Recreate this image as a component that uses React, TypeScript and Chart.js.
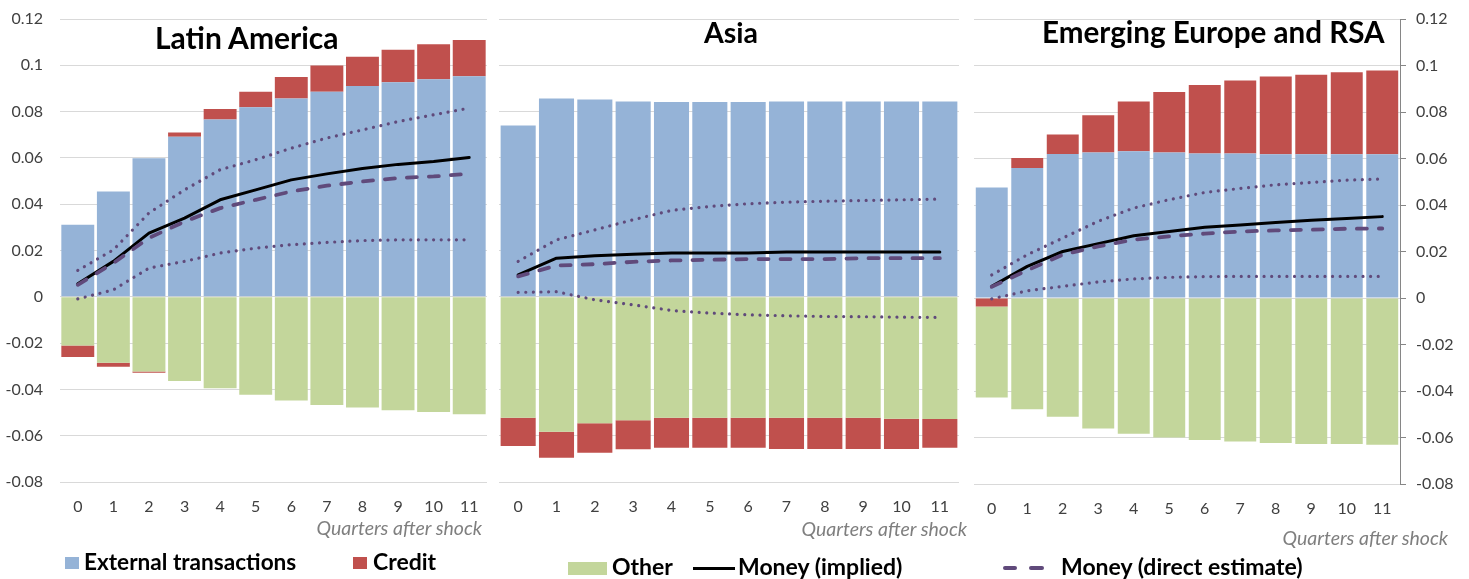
import React, { useEffect, useRef } from 'react';
import { Chart, registerables } from 'chart.js';

Chart.register(...registerables);

const quarters = ['0', '1', '2', '3', '4', '5', '6', '7', '8', '9', '10', '11'];
const yTickValues = [-0.08, -0.06, -0.04, -0.02, 0, 0.02, 0.04, 0.06, 0.08, 0.1, 0.12];

// Latin America
const laExternal = [0.0311, 0.0455, 0.0598, 0.0691, 0.0766, 0.0819, 0.0857, 0.0886, 0.0911, 0.0927, 0.094, 0.0953];
const laOther = [-0.021, -0.0285, -0.0323, -0.0364, -0.0395, -0.0423, -0.0448, -0.0467, -0.0478, -0.049, -0.0498, -0.0507];
const laCredit = [-0.005, -0.0017, -0.0005, 0.0019, 0.0045, 0.0067, 0.0092, 0.0113, 0.0126, 0.014, 0.0151, 0.0156];
const laMoneyImplied = [0.0056, 0.0153, 0.0275, 0.034, 0.0419, 0.0462, 0.0505, 0.0531, 0.0554, 0.0572, 0.0584, 0.0602];
const laMoneyDirect = [0.0052, 0.0146, 0.0254, 0.0325, 0.0383, 0.0419, 0.0455, 0.048, 0.0498, 0.0513, 0.052, 0.0531];
const laUpperBand = [0.0114, 0.0203, 0.0362, 0.0462, 0.0549, 0.0592, 0.0642, 0.0686, 0.0721, 0.0757, 0.0786, 0.0815];
const laLowerBand = [-0.0009, 0.003, 0.0124, 0.0153, 0.0189, 0.021, 0.0225, 0.0235, 0.0243, 0.0246, 0.0246, 0.0246];

// Asia
const asExternal = [0.074, 0.0857, 0.0852, 0.0844, 0.0841, 0.0841, 0.0841, 0.0844, 0.0844, 0.0844, 0.0844, 0.0844];
const asOther = [-0.0523, -0.0583, -0.0546, -0.0533, -0.0523, -0.0523, -0.0523, -0.0523, -0.0523, -0.0523, -0.0527, -0.0528];
const asCredit = [-0.0122, -0.0112, -0.0128, -0.0125, -0.0129, -0.0129, -0.0129, -0.0134, -0.0134, -0.0134, -0.013, -0.0124];
const asMoneyImplied = [0.0095, 0.0167, 0.0177, 0.0184, 0.0189, 0.0189, 0.0189, 0.0193, 0.0193, 0.0193, 0.0193, 0.0193];
const asMoneyDirect = [0.0088, 0.0135, 0.0141, 0.0151, 0.0157, 0.016, 0.0163, 0.0163, 0.0163, 0.0167, 0.0167, 0.0167];
const asUpperBand = [0.0153, 0.0246, 0.0289, 0.0333, 0.0373, 0.039, 0.0402, 0.0409, 0.0413, 0.0416, 0.0419, 0.0422];
const asLowerBand = [0.0019, 0.0022, -0.0013, -0.0035, -0.0059, -0.007, -0.0078, -0.0082, -0.0085, -0.0086, -0.0088, -0.0089];

// Emerging Europe and RSA
const eeExternal = [0.0475, 0.0559, 0.0619, 0.0626, 0.0631, 0.0626, 0.0622, 0.0622, 0.0618, 0.0618, 0.0618, 0.0618];
const eeCredit = [-0.0037, 0.0043, 0.0084, 0.016, 0.0214, 0.026, 0.0294, 0.0314, 0.0335, 0.0342, 0.0353, 0.036];
const eeOther = [-0.0391, -0.0479, -0.0511, -0.0561, -0.0584, -0.06, -0.0611, -0.0617, -0.0624, -0.0628, -0.0628, -0.0631];
const eeMoneyImplied = [0.005, 0.0136, 0.02, 0.0234, 0.0268, 0.0286, 0.0304, 0.0314, 0.0325, 0.0334, 0.0342, 0.035];
const eeMoneyDirect = [0.0048, 0.0119, 0.0186, 0.0222, 0.0251, 0.0265, 0.0277, 0.0286, 0.0291, 0.0294, 0.0298, 0.0299];
const eeUpperBand = [0.0099, 0.0186, 0.0258, 0.033, 0.0387, 0.0423, 0.0454, 0.0471, 0.0487, 0.0497, 0.0507, 0.0512];
const eeLowerBand = [-0.0004, 0.0031, 0.005, 0.0069, 0.0082, 0.0089, 0.0092, 0.0093, 0.0093, 0.0093, 0.0093, 0.0093];

const BLUE = '#95B3D7';
const RED = '#C0504D';
const GREEN = '#C3D69B';
const PURPLE = '#604A7B';
const FONT = 'Lato, "Open Sans", sans-serif';

type PanelOpts = {
  external: number[];
  other: number[];
  credit: number[];
  implied: number[];
  direct: number[];
  upper: number[];
  lower: number[];
  creditBeforeOther: boolean;
  barPct: number;
  yMode: 'left' | 'none' | 'right';
  yWidth: number;
  xHeight: number;
  padRight: number;
};

function buildConfig(o: PanelOpts): any {
  const bar = (label: string, data: number[], color: string) => ({
    type: 'bar',
    label,
    data,
    backgroundColor: color,
    borderWidth: 0,
    stack: 'bars',
    order: 2,
    barPercentage: o.barPct,
    categoryPercentage: 1,
  });
  const line = (label: string, data: number[], color: string, width: number, dash: number[], cap: string, stack: string) => ({
    type: 'line',
    label,
    data,
    borderColor: color,
    backgroundColor: color,
    borderWidth: width,
    borderDash: dash,
    borderCapStyle: cap,
    borderJoinStyle: 'round',
    pointRadius: 0,
    fill: false,
    tension: 0,
    stack,
    order: 0,
  });
  const bars = o.creditBeforeOther
    ? [bar('External transactions', o.external, BLUE), bar('Credit', o.credit, RED), bar('Other', o.other, GREEN)]
    : [bar('External transactions', o.external, BLUE), bar('Other', o.other, GREEN), bar('Credit', o.credit, RED)];
  const datasets = [
    ...bars,
    line('Upper band', o.upper, PURPLE, 3.2, [0.01, 7.6], 'round', 's1'),
    line('Lower band', o.lower, PURPLE, 3.2, [0.01, 7.6], 'round', 's2'),
    line('Money (direct estimate)', o.direct, PURPLE, 3.8, [10, 12], 'round', 's3'),
    line('Money (implied)', o.implied, '#000000', 3, [], 'round', 's4'),
  ];
  return {
    type: 'bar',
    data: { labels: quarters, datasets },
    options: {
      responsive: false,
      maintainAspectRatio: false,
      animation: false,
      layout: { padding: { top: 19, right: o.padRight, left: 0, bottom: 0 } },
      plugins: { legend: { display: false }, tooltip: { enabled: false }, title: { display: false } },
      scales: {
        x: {
          stacked: true,
          grid: { display: false, drawTicks: false },
          border: { display: false },
          ticks: { color: '#404040', font: { family: FONT, size: 16 }, padding: 15, maxRotation: 0, autoSkip: false },
          afterFit: (s: any) => {
            s.height = o.xHeight;
            s.paddingLeft = 0;
            s.paddingRight = 0;
          },
        },
        y: {
          stacked: true,
          position: o.yMode === 'right' ? 'right' : 'left',
          min: -0.08,
          max: 0.12,
          afterBuildTicks: (s: any) => {
            s.ticks = yTickValues.map((v) => ({ value: v }));
          },
          grid: {
            color: '#D9D9D9',
            lineWidth: 1,
            drawTicks: o.yMode === 'right',
            tickLength: 6,
            tickColor: '#868686',
          },
          border: { display: o.yMode === 'right', color: '#868686', width: 1 },
          ticks: {
            display: o.yMode !== 'none',
            color: '#404040',
            font: { family: FONT, size: 16 },
            padding: o.yMode === 'right' ? 10 : 17,
            callback: (v: any) => String(Number(Number(v).toFixed(2))),
          },
          afterFit: (s: any) => {
            s.width = o.yWidth;
            s.paddingTop = 0;
            s.paddingBottom = 0;
          },
        },
      },
    },
  };
}

function ChartCanvas({ cfg, left, width, height }: { cfg: PanelOpts; left: number; width: number; height: number }) {
  const ref = useRef<HTMLCanvasElement | null>(null);
  useEffect(() => {
    if (!ref.current) return;
    const chart = new Chart(ref.current, buildConfig(cfg));
    return () => chart.destroy();
  }, []);
  return (
    <canvas
      ref={ref}
      width={width}
      height={height}
      style={{ position: 'absolute', left, top: 0, width, height, display: 'block' }}
    />
  );
}

const abs = (extra: React.CSSProperties): React.CSSProperties => ({
  position: 'absolute',
  whiteSpace: 'nowrap',
  fontFamily: FONT,
  lineHeight: 1.2,
  margin: 0,
  ...extra,
});

export default function App() {
  const titleStyle = { fontWeight: 700, fontSize: 30, color: '#000' };
  const captionStyle = { fontStyle: 'italic', fontSize: 19.5, color: '#7F7F7F' };
  const legendStyle = { fontWeight: 700, fontSize: 23, color: '#000' };
  return (
    <div style={{ position: 'absolute', left: 0, top: 0, width: 1469, height: 579, background: '#fff', overflow: 'hidden' }}>
      <ChartCanvas
        left={0}
        width={490}
        height={545}
        cfg={{
          external: laExternal, other: laOther, credit: laCredit, implied: laMoneyImplied, direct: laMoneyDirect,
          upper: laUpperBand, lower: laLowerBand, creditBeforeOther: false, barPct: 0.925, yMode: 'left', yWidth: 60, xHeight: 63, padRight: 3,
        }}
      />
      <ChartCanvas
        left={499}
        width={460}
        height={545}
        cfg={{
          external: asExternal, other: asOther, credit: asCredit, implied: asMoneyImplied, direct: asMoneyDirect,
          upper: asUpperBand, lower: asLowerBand, creditBeforeOther: false, barPct: 0.915, yMode: 'none', yWidth: 0, xHeight: 63, padRight: 0,
        }}
      />
      <ChartCanvas
        left={974}
        width={495}
        height={545}
        cfg={{
          external: eeExternal, other: eeOther, credit: eeCredit, implied: eeMoneyImplied, direct: eeMoneyDirect,
          upper: eeUpperBand, lower: eeLowerBand, creditBeforeOther: true, barPct: 0.9, yMode: 'right', yWidth: 69, xHeight: 61, padRight: 0,
        }}
      />

      <div style={abs({ ...titleStyle, left: 155, top: 19 })}>Latin America</div>
      <div style={abs({ ...titleStyle, fontSize: 28.5, left: 704, top: 15 })}>Asia</div>
      <div style={abs({ ...titleStyle, fontSize: 29.6, left: 1042, top: 14 })}>Emerging Europe and RSA</div>

      <div style={abs({ ...captionStyle, right: 1469 - 482, top: 516 })}>Quarters after shock</div>
      <div style={abs({ ...captionStyle, right: 1469 - 967, top: 517 })}>Quarters after shock</div>
      <div style={abs({ ...captionStyle, right: 1469 - 1448, top: 526 })}>Quarters after shock</div>

      <div style={{ position: 'absolute', left: 65, top: 557, width: 14, height: 12, background: BLUE }} />
      <div style={abs({ ...legendStyle, fontSize: 22.6, left: 84, top: 548 })}>External transactions</div>
      <div style={{ position: 'absolute', left: 353, top: 557, width: 14, height: 12, background: RED }} />
      <div style={abs({ ...legendStyle, left: 373, top: 548 })}>Credit</div>

      <div style={{ position: 'absolute', left: 568, top: 562, width: 39, height: 13, background: GREEN }} />
      <div style={abs({ ...legendStyle, left: 612, top: 553 })}>Other</div>
      <div style={{ position: 'absolute', left: 693, top: 567, width: 42, height: 3, background: '#000' }} />
      <div style={abs({ ...legendStyle, left: 738, top: 553 })}>Money (implied)</div>

      <div style={{ position: 'absolute', left: 1003, top: 566, width: 14, height: 4, background: PURPLE, borderRadius: 2 }} />
      <div style={{ position: 'absolute', left: 1029, top: 566, width: 15, height: 4, background: PURPLE, borderRadius: 2 }} />
      <div style={abs({ ...legendStyle, left: 1061, top: 553 })}>Money (direct estimate)</div>
    </div>
  );
}
